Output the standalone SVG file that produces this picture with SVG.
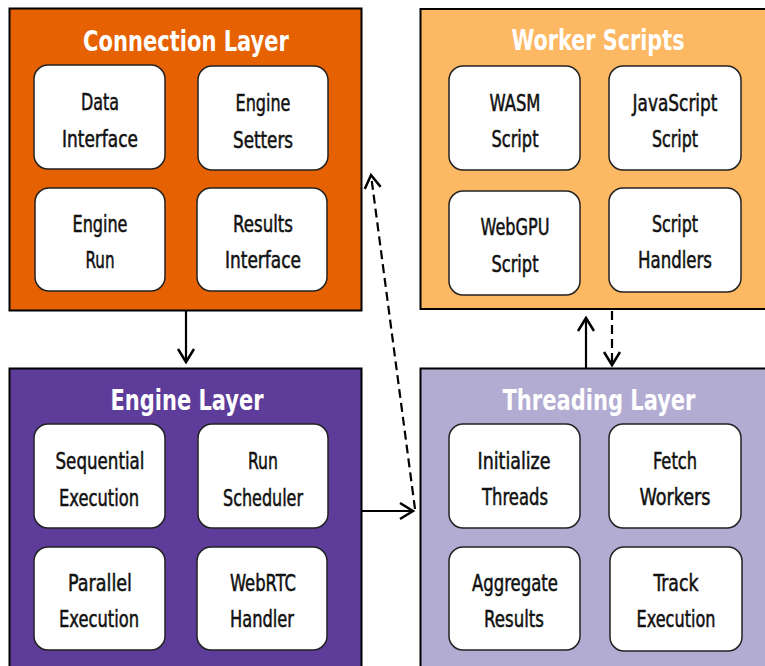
<svg xmlns="http://www.w3.org/2000/svg" width="765" height="666" viewBox="0 0 765 666">
  <defs>
    <style>
      .layer { stroke: #000; stroke-width: 2; }
      .card { fill: #fff; stroke: #222; stroke-width: 1.5; }
      .title { font-family: "DejaVu Sans Condensed", "DejaVu Sans", sans-serif; font-stretch: condensed; font-weight: bold; font-size: 29px; fill: #fff; text-anchor: middle; }
      .label { font-family: "DejaVu Sans Condensed", "DejaVu Sans", sans-serif; font-stretch: condensed; font-size: 23px; fill: #111; stroke: #111; stroke-width: 0.5; text-anchor: middle; }
      .link { fill: none; stroke: #000; stroke-width: 2.2; }
      .dash { stroke-dasharray: 9 5; }
    </style>
    <marker id="head" markerUnits="userSpaceOnUse" viewBox="0 0 20 20" markerWidth="20" markerHeight="20" refX="16" refY="10" orient="auto">
      <path d="M3,2 L16,10 L3,18" fill="none" stroke="#000" stroke-width="2.5" stroke-dasharray="none"/>
    </marker>
  </defs>

  <rect width="765" height="666" fill="#fff"/>

  <!-- Connection Layer -->
  <g id="connection-layer">
    <rect class="layer" x="9.5" y="8.5" width="352" height="302" fill="#e66101"/>
    <text class="title" x="186" y="51" textLength="206" lengthAdjust="spacingAndGlyphs">Connection Layer</text>
    <g id="data-interface">
      <rect class="card" x="34" y="65" width="131" height="104" rx="14"/>
      <text class="label" x="100" y="110" textLength="38" lengthAdjust="spacingAndGlyphs">Data</text>
      <text class="label" x="100" y="147" textLength="76" lengthAdjust="spacingAndGlyphs">Interface</text>
    </g>
    <g id="engine-setters">
      <rect class="card" x="198" y="66" width="130" height="104" rx="14"/>
      <text class="label" x="263" y="111" textLength="55" lengthAdjust="spacingAndGlyphs">Engine</text>
      <text class="label" x="263" y="148" textLength="60" lengthAdjust="spacingAndGlyphs">Setters</text>
    </g>
    <g id="engine-run">
      <rect class="card" x="35" y="188" width="130" height="103" rx="14"/>
      <text class="label" x="100" y="232" textLength="55" lengthAdjust="spacingAndGlyphs">Engine</text>
      <text class="label" x="100" y="268" textLength="29" lengthAdjust="spacingAndGlyphs">Run</text>
    </g>
    <g id="results-interface">
      <rect class="card" x="197" y="188" width="130" height="103" rx="14"/>
      <text class="label" x="263" y="232" textLength="60" lengthAdjust="spacingAndGlyphs">Results</text>
      <text class="label" x="263" y="268" textLength="76" lengthAdjust="spacingAndGlyphs">Interface</text>
    </g>
  </g>

  <!-- Worker Scripts -->
  <g id="worker-scripts">
    <rect class="layer" x="420.5" y="9" width="360" height="300" fill="#fdb863"/>
    <text class="title" x="598" y="50" textLength="173" lengthAdjust="spacingAndGlyphs">Worker Scripts</text>
    <g id="wasm-script">
      <rect class="card" x="449" y="66" width="131" height="104" rx="14"/>
      <text class="label" x="515" y="111" textLength="51" lengthAdjust="spacingAndGlyphs">WASM</text>
      <text class="label" x="515" y="147" textLength="47" lengthAdjust="spacingAndGlyphs">Script</text>
    </g>
    <g id="javascript-script">
      <rect class="card" x="609" y="66" width="132" height="104" rx="14"/>
      <text class="label" x="675" y="111" textLength="85" lengthAdjust="spacingAndGlyphs">JavaScript</text>
      <text class="label" x="675" y="147" textLength="46" lengthAdjust="spacingAndGlyphs">Script</text>
    </g>
    <g id="webgpu-script">
      <rect class="card" x="449" y="191" width="131" height="104" rx="14"/>
      <text class="label" x="515" y="235" textLength="69" lengthAdjust="spacingAndGlyphs">WebGPU</text>
      <text class="label" x="515" y="272" textLength="47" lengthAdjust="spacingAndGlyphs">Script</text>
    </g>
    <g id="script-handlers">
      <rect class="card" x="609" y="188" width="132" height="104" rx="14"/>
      <text class="label" x="675" y="232" textLength="46" lengthAdjust="spacingAndGlyphs">Script</text>
      <text class="label" x="675" y="268" textLength="74" lengthAdjust="spacingAndGlyphs">Handlers</text>
    </g>
  </g>

  <!-- Engine Layer -->
  <g id="engine-layer">
    <rect class="layer" x="9.5" y="368.5" width="352" height="310" fill="#5e3c99"/>
    <text class="title" x="187" y="410" textLength="153" lengthAdjust="spacingAndGlyphs">Engine Layer</text>
    <g id="sequential-execution">
      <rect class="card" x="34" y="424" width="131" height="104" rx="14"/>
      <text class="label" x="100" y="469" textLength="89" lengthAdjust="spacingAndGlyphs">Sequential</text>
      <text class="label" x="99" y="506" textLength="80" lengthAdjust="spacingAndGlyphs">Execution</text>
    </g>
    <g id="run-scheduler">
      <rect class="card" x="198" y="424" width="130" height="104" rx="14"/>
      <text class="label" x="263" y="469" textLength="30" lengthAdjust="spacingAndGlyphs">Run</text>
      <text class="label" x="263" y="506" textLength="80" lengthAdjust="spacingAndGlyphs">Scheduler</text>
    </g>
    <g id="parallel-execution">
      <rect class="card" x="34" y="547" width="131" height="103" rx="14"/>
      <text class="label" x="100" y="591" textLength="64" lengthAdjust="spacingAndGlyphs">Parallel</text>
      <text class="label" x="99" y="627" textLength="80" lengthAdjust="spacingAndGlyphs">Execution</text>
    </g>
    <g id="webrtc-handler">
      <rect class="card" x="197" y="547" width="130" height="103" rx="14"/>
      <text class="label" x="263" y="591" textLength="66" lengthAdjust="spacingAndGlyphs">WebRTC</text>
      <text class="label" x="262" y="627" textLength="64" lengthAdjust="spacingAndGlyphs">Handler</text>
    </g>
  </g>

  <!-- Threading Layer -->
  <g id="threading-layer">
    <rect class="layer" x="420.5" y="368.5" width="360" height="310" fill="#b2abd2"/>
    <text class="title" x="599" y="410" textLength="193" lengthAdjust="spacingAndGlyphs">Threading Layer</text>
    <g id="initialize-threads">
      <rect class="card" x="449" y="424" width="131" height="104" rx="14"/>
      <text class="label" x="514" y="469" textLength="73" lengthAdjust="spacingAndGlyphs">Initialize</text>
      <text class="label" x="515" y="505" textLength="66" lengthAdjust="spacingAndGlyphs">Threads</text>
    </g>
    <g id="fetch-workers">
      <rect class="card" x="609" y="424" width="132" height="104" rx="14"/>
      <text class="label" x="675" y="469" textLength="44" lengthAdjust="spacingAndGlyphs">Fetch</text>
      <text class="label" x="675" y="505" textLength="71" lengthAdjust="spacingAndGlyphs">Workers</text>
    </g>
    <g id="aggregate-results">
      <rect class="card" x="449" y="547" width="131" height="103" rx="14"/>
      <text class="label" x="515" y="591" textLength="86" lengthAdjust="spacingAndGlyphs">Aggregate</text>
      <text class="label" x="514" y="627" textLength="60" lengthAdjust="spacingAndGlyphs">Results</text>
    </g>
    <g id="track-execution">
      <rect class="card" x="610" y="547" width="132" height="104" rx="14"/>
      <text class="label" x="676" y="591" textLength="45" lengthAdjust="spacingAndGlyphs">Track</text>
      <text class="label" x="676" y="627" textLength="79" lengthAdjust="spacingAndGlyphs">Execution</text>
    </g>
  </g>

  <!-- Connectors -->
  <g id="connectors">
    <path class="link" d="M186,311 L186,362" marker-end="url(#head)"/>
    <path class="link" d="M362,511 L413,511" marker-end="url(#head)"/>
    <path class="link dash" d="M415,509 L371,175" marker-end="url(#head)"/>
    <path class="link" d="M586,368 L586,318" marker-end="url(#head)"/>
    <path class="link dash" d="M612,311 L612,365" marker-end="url(#head)"/>
  </g>
</svg>
